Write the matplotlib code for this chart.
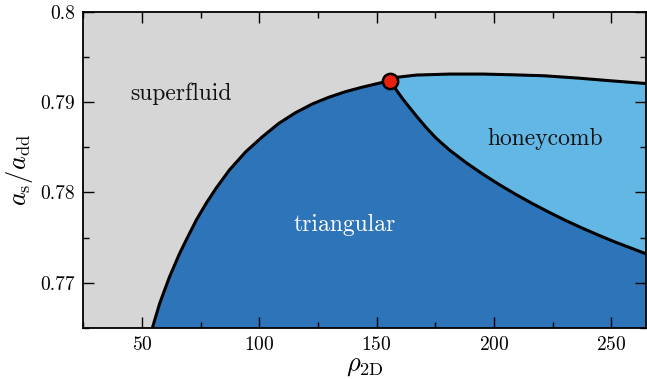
import numpy as np
import matplotlib
matplotlib.use("Agg")
import matplotlib.pyplot as plt
from matplotlib.ticker import MultipleLocator, FuncFormatter

plt.rcParams["font.family"] = "serif"
plt.rcParams["font.serif"] = ["cmr10", "DejaVu Serif"]
plt.rcParams["mathtext.fontset"] = "cm"
plt.rcParams["axes.formatter.use_mathtext"] = True

# Phase boundaries
# superfluid / triangular boundary
sf_tri_x = [54.4, 57.5, 61.7, 66.0, 68.8, 73.1, 77.3, 81.5, 87.2, 94.2, 101.3, 108.3,
            115.4, 122.5, 129.5, 136.6, 143.6, 150.7, 155.7]
sf_tri_y = [0.76501, 0.76771, 0.77065, 0.77324, 0.77472, 0.77693, 0.77878, 0.78044,
            0.78247, 0.78450, 0.78616, 0.78764, 0.78882, 0.78978, 0.79052, 0.79114,
            0.79163, 0.79207, 0.79236]

# superfluid / honeycomb boundary
sf_hc_x = [155.7, 158.5, 167.0, 181.1, 195.2, 207.9, 221.4, 235.5, 249.6, 265.0]
sf_hc_y = [0.79236, 0.79274, 0.79299, 0.79310, 0.79310, 0.79302, 0.79291, 0.79266,
           0.79236, 0.79205]

# triangular / honeycomb boundary
tri_hc_x = [155.7, 158.5, 161.3, 164.2, 167.0, 171.2, 175.4, 181.1, 188.1, 195.2, 202.3,
            209.3, 216.4, 223.5, 230.5, 237.6, 244.7, 251.7, 258.8, 265.0]
tri_hc_y = [0.79236, 0.79130, 0.79029, 0.78934, 0.78844, 0.78715, 0.78599, 0.78468,
            0.78330, 0.78203, 0.78086, 0.77978, 0.77876, 0.77780, 0.77690, 0.77605,
            0.77525, 0.77450, 0.77380, 0.77318]

# triple point
tp_x, tp_y = 155.7, 0.79236

xmin, xmax = 25, 265
ymin, ymax = 0.765, 0.8

c_sf = "#d6d6d6"
c_tri = "#2e74b8"
c_hc = "#63b7e4"

fig = plt.figure(figsize=(6.47, 3.79), dpi=100)
ax = fig.add_axes([0.129, 0.135, 0.870, 0.834])
ax.set_facecolor(c_sf)

# triangular region
tri_poly_x = sf_tri_x + tri_hc_x[1:] + [xmax, sf_tri_x[0]]
tri_poly_y = sf_tri_y + tri_hc_y[1:] + [ymin, ymin]
ax.fill(tri_poly_x, tri_poly_y, color=c_tri, lw=0, zorder=1)

# honeycomb region
hc_poly_x = sf_hc_x + tri_hc_x[::-1]
hc_poly_y = sf_hc_y + tri_hc_y[::-1]
ax.fill(hc_poly_x, hc_poly_y, color=c_hc, lw=0, zorder=1)

# boundaries
for xs, ys in [(sf_tri_x, sf_tri_y), (sf_hc_x, sf_hc_y), (tri_hc_x, tri_hc_y)]:
    ax.plot(xs, ys, color="black", lw=2.2, solid_joinstyle="round", zorder=2)

ax.plot(tp_x, tp_y, "o", ms=11, mfc="#e8210f", mec="black", mew=1.8, zorder=3, clip_on=False)

# phase labels
ax.text(66.8, 0.7909, "superfluid", fontsize=17, ha="center", va="center", color="#111111")
ax.text(136.5, 0.7764, "triangular", fontsize=17, ha="center", va="center", color="white")
ax.text(222.0, 0.7859, "honeycomb", fontsize=17, ha="center", va="center", color="#111111")

ax.set_xlim(xmin, xmax)
ax.set_ylim(ymin, ymax)

ax.xaxis.set_major_locator(MultipleLocator(50))
ax.xaxis.set_minor_locator(MultipleLocator(25))
ax.yaxis.set_major_locator(MultipleLocator(0.01))
ax.yaxis.set_minor_locator(MultipleLocator(0.005))
ax.yaxis.set_major_formatter(FuncFormatter(lambda v, p: f"{v:g}"))

ax.tick_params(which="both", direction="in", top=True, right=True, labelsize=14, width=1)
ax.tick_params(which="major", length=8, pad=6)
ax.tick_params(which="minor", length=4.5)
for s in ax.spines.values():
    s.set_linewidth(1.3)

ax.set_xlabel(r"$\rho_{\mathrm{2D}}$", fontsize=19, labelpad=0)
ax.set_ylabel(r"$a_{\mathrm{s}}/a_{\mathrm{dd}}$", fontsize=19, labelpad=4)

fig.savefig("out.png", dpi=100)
